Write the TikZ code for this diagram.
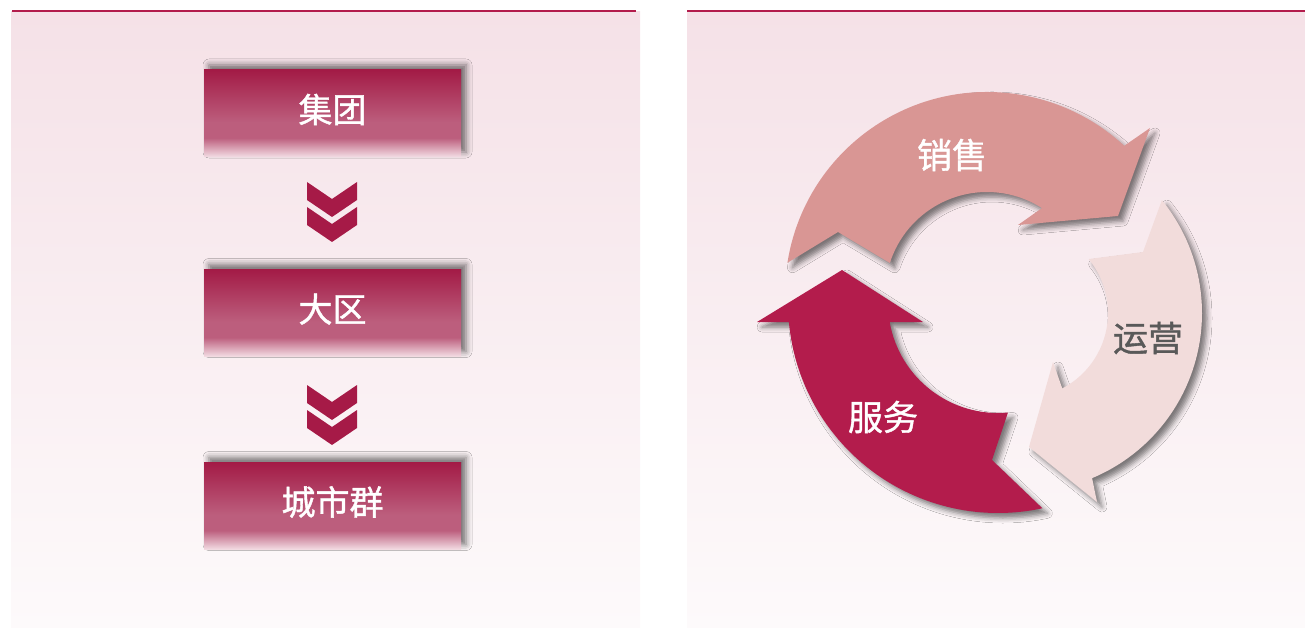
\documentclass[tikz,border=0pt]{standalone}
\usepackage{fontspec}
\newfontfamily\cjk{Noto Sans CJK SC}[FakeBold=1.2]
\usetikzlibrary{calc,shadows.blur}
\definecolor{crimson}{HTML}{B31C4C}
\definecolor{chevred}{HTML}{A61A47}
\definecolor{boxtop}{HTML}{A31B46}
\definecolor{boxmid}{HTML}{BC5E7D}
\definecolor{boxbot}{HTML}{F3DDE4}
\definecolor{paneltop}{HTML}{F5E1E7}
\definecolor{panelbot}{HTML}{FDFAFB}
\definecolor{sales}{HTML}{D99694}
\definecolor{ops}{HTML}{F2DCDB}
\definecolor{opstext}{HTML}{595959}
\pgfdeclareverticalshading{boxfade}{100bp}{color(0bp)=(boxbot); color(25bp)=(boxbot); color(36bp)=(boxmid); color(45bp)=(boxmid); color(75bp)=(boxtop); color(100bp)=(boxtop)}
\begin{document}
\begin{tikzpicture}[x=1pt,y=1pt,
    tier/.style={rectangle,minimum width=257,minimum height=87,inner sep=0,text height=28pt,text depth=10pt,shade,shading=boxfade,text=white,font=\cjk\fontsize{34}{40}\selectfont,blur shadow={shadow xshift=5pt,shadow yshift=5pt,shadow blur radius=6pt,shadow opacity=55}},
    chev/.style={fill=chevred},
    cyc/.style={blur shadow={shadow xshift=5pt,shadow yshift=-5pt,shadow blur radius=5pt,shadow opacity=50}},
    lbl/.style={font=\cjk\fontsize{35}{40}\selectfont}]
    \useasboundingbox (0,0) rectangle (1305,-628);
    % panels
    \shade[top color=paneltop,bottom color=panelbot] (11,-12) rectangle (640,-628);
    \shade[top color=paneltop,bottom color=panelbot] (687,-12) rectangle (1305,-628);
    \draw[crimson,line width=2] (12,-11) -- (636,-11);
    \draw[crimson,line width=2] (687,-11) -- (1305,-11);

    % left: levels
    \node[tier] at (332.5,-113.5) (group) {集团};
    \node[tier] at (332.5,-313) (region) {大区};
    \node[tier] at (332.5,-506) (city) {城市群};
    \foreach \y in {182,207,385,410}
        \fill[chev] (307,-\y) -- (332,-\y-17) -- (357,-\y) -- (357,-\y-18) -- (332,-\y-35) -- (307,-\y-18) -- cycle;

    % right: cycle
    \coordinate (S) at (987,-294);
    \coordinate (O) at (1023,-313);
    \coordinate (V) at (998,-303);
    \fill[crimson,cyc] ($(V)+(282.2:210)$) arc[start angle=282.2,end angle=185.2,radius=210] -- (757,-322) -- (842,-270) -- (923,-322)
        -- ($(V)+(190:110)$) arc[start angle=190,end angle=275.2,radius=110] -- (992,-460) -- cycle;
    \fill[ops,cyc] ($(O)+(39.1:179)$) arc[start angle=39.1,end angle=-67.3,radius=179] -- (1097,-502) -- (1029,-447) -- (1053,-362)
        -- ($(O)+(-62.5:85)$) arc[start angle=-62.5,end angle=39.4,radius=85] -- (1143,-252) -- cycle;
    \fill[sales,cyc] ($(S)+(171.1:202)$) arc[start angle=171.1,end angle=47.2,radius=202] -- (1150,-128) -- (1118,-216) -- (1018,-225)
        -- ($(S)+(57.4:102)$) arc[start angle=57.4,end angle=162.3,radius=102] -- (838,-232) -- cycle;
    \node[lbl,text=white] at (952,-155) (sell) {销售};
    \node[lbl,text=opstext] at (1148,-338) (run) {运营};
    \node[lbl,text=white] at (883,-417) (serve) {服务};
\end{tikzpicture}
\end{document}
